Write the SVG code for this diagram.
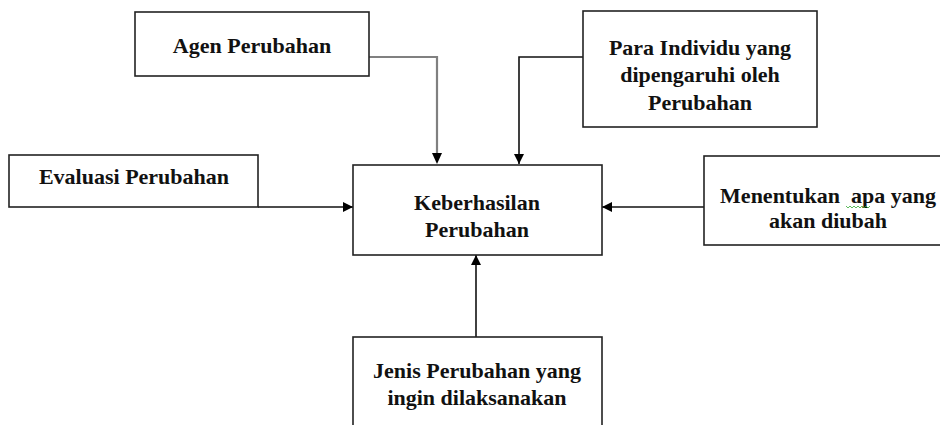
<svg xmlns="http://www.w3.org/2000/svg" width="940" height="425" viewBox="0 0 940 425">
<defs>
<style>
.box{fill:#fff;stroke:#222;stroke-width:1.6}
.t{font-family:"Liberation Serif","Times New Roman",serif;font-weight:bold;font-size:22px;fill:#111;text-anchor:middle}
.c{fill:none;stroke:#111;stroke-width:1.6}
.g{fill:none;stroke:#808080;stroke-width:2.2}
</style>
<marker id="ah" viewBox="0 0 10 10" refX="10" refY="5" markerWidth="10" markerHeight="10" markerUnits="userSpaceOnUse" orient="auto">
<path d="M0,0 L10,5 L0,10 z" fill="#000"/>
</marker>
</defs>
<rect width="940" height="425" fill="#fff"/>
<g id="connectors">
<polyline class="g" points="369,57 437,57 437,154" />
<path d="M432,153 L442,153 L437,164 z" fill="#000"/>
<polyline class="c" points="583,57 519,57 519,164" marker-end="url(#ah)"/>
<polyline class="c" points="258,207 353,207" marker-end="url(#ah)"/>
<polyline class="c" points="704,207 602,207" marker-end="url(#ah)"/>
<polyline class="c" points="476,337 476,255" marker-end="url(#ah)"/>
</g>
<g id="agen">
<rect class="box" x="135" y="12" width="234" height="64"/>
<text class="t" x="252" y="53">Agen Perubahan</text>
</g>
<g id="para">
<rect class="box" x="583" y="11" width="234" height="116"/>
<text class="t" x="700" y="55">Para Individu yang</text>
<text class="t" x="700" y="82">dipengaruhi oleh</text>
<text class="t" x="700" y="110">Perubahan</text>
</g>
<g id="evaluasi">
<rect class="box" x="9" y="155" width="249" height="52"/>
<text class="t" x="134" y="184">Evaluasi Perubahan</text>
</g>
<g id="keberhasilan">
<rect class="box" x="353" y="165" width="249" height="90"/>
<text class="t" x="477" y="210">Keberhasilan</text>
<text class="t" x="477" y="237">Perubahan</text>
</g>
<g id="menentukan">
<rect class="box" x="704" y="156" width="245" height="89"/>
<text class="t" x="828" y="203" xml:space="preserve">Menentukan  apa yang</text>
<path d="M846,206 l2,2 l2,-2 l2,2 l2,-2 l2,2 l2,-2 l2,2 l2,-2 l2,2 l2,-2 l2,2 l2,-2" fill="none" stroke="#3a3" stroke-width="0.8"/>
<text class="t" x="828" y="228">akan diubah</text>
</g>
<g id="jenis">
<rect class="box" x="353" y="337" width="249" height="100"/>
<text class="t" x="477" y="378">Jenis Perubahan yang</text>
<text class="t" x="477" y="405">ingin dilaksanakan</text>
</g>
</svg>
